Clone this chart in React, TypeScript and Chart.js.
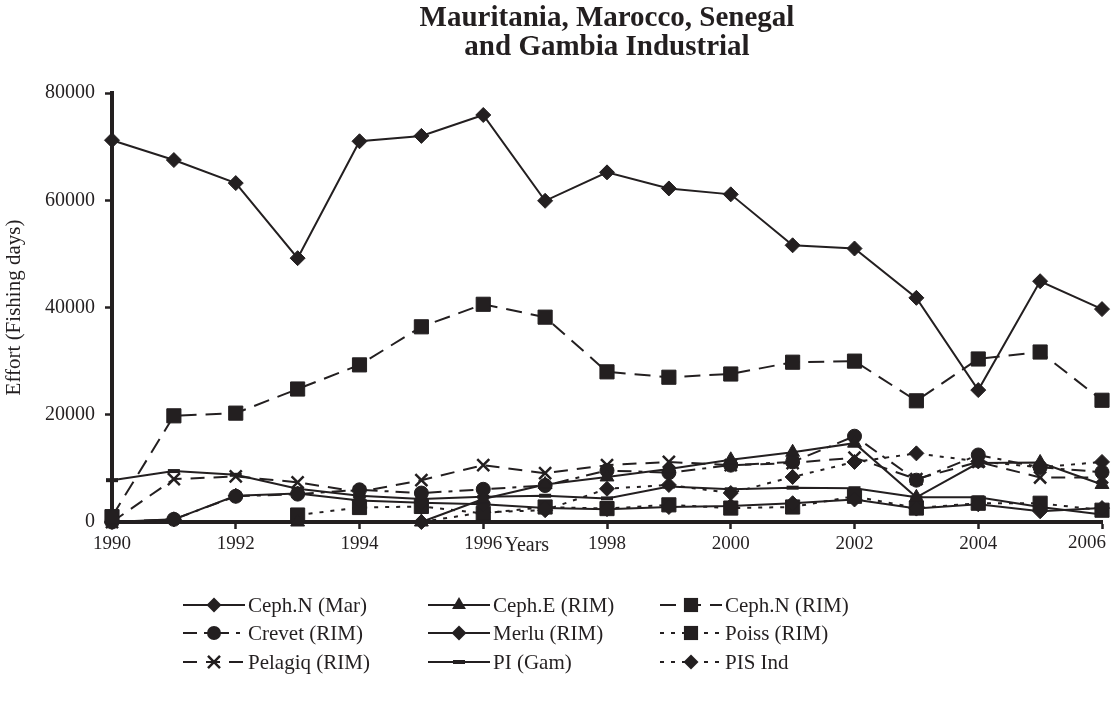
import React, { useEffect, useRef } from 'react';
import { Chart, registerables } from 'chart.js';

Chart.register(...registerables);

// ---------- data ----------
const years = [1990, 1991, 1992, 1993, 1994, 1995, 1996, 1997, 1998, 1999, 2000, 2001, 2002, 2003, 2004, 2005, 2006];

const cephNMar = [71200, 67500, 63200, 49200, 71000, 72000, 75900, 59900, 65200, 62200, 61100, 51600, 51000, 41800, 24600, 44900, 39700];
const cephERIM = [null, null, null, 0, null, 0, 4300, 7000, 8400, 9900, 11600, 13000, 14700, 4600, 11000, 11100, 7000];
const cephNRIM = [1000, 19800, 20300, 24800, 29300, 36400, 40600, 38200, 28000, 27000, 27600, 29800, 30000, 22600, 30400, 31700, 22700];
const crevetRIM = [0, 500, 4800, 5200, 6000, 5400, 6100, 6800, 9600, 9200, 10600, 11200, 16000, 7800, 12500, 10200, 9300];
const merluRIM = [0, 500, 4900, 5300, 4000, 3600, 3300, 2600, 2400, 2800, 3000, 3500, 4200, 2500, 3300, 2000, 2600];
const poissRIM = [null, null, null, 1300, 2700, 2900, 1600, 2800, 2500, 3200, 2600, 2800, 4800, 2600, 3500, 3500, 2200];
const pelagiqRIM = [0, 8000, 8500, 7400, 5600, 7800, 10600, 9100, 10600, 11200, 10600, 11000, 12000, 8000, 11200, 8300, 8300];
const piGam = [7800, 9500, 8800, 6200, 4900, 4300, 4700, 4900, 4400, 6600, 6100, 6400, 6300, 4600, 4600, 2800, 1400];
const pisInd = [null, null, null, null, null, 0, 1800, 2200, 6200, 6900, 5400, 8400, 11200, 12800, 11300, 10200, 11200];

const seriesNames = ['Ceph.N (Mar)', 'Ceph.E (RIM)', 'Ceph.N (RIM)', 'Crevet (RIM)', 'Merlu (RIM)', 'Poiss (RIM)', 'Pelagiq (RIM)', 'PI (Gam)', 'PIS Ind'];
const seriesValues = [cephNMar, cephERIM, cephNRIM, crevetRIM, merluRIM, poissRIM, pelagiqRIM, piGam, pisInd];

const yTickValues = [0, 20000, 40000, 60000, 80000];
const titleLines = ['Mauritania, Marocco, Senegal', 'and Gambia Industrial'];
const xTitle = 'Years';
const yTitle = 'Effort (Fishing days)';

// ---------- styles ----------
const INK = '#231f20';
const FONT = '"Liberation Serif", "Times New Roman", serif';

const styles = [
  { dash: [], point: 'rectRot', r: 7.5 },
  { dash: [], point: 'triangle', r: 8 },
  { dash: [16, 9], point: 'rect', r: 10 },
  { dash: [14, 7, 4, 7], point: 'circle', r: 7 },
  { dash: [], point: 'rectRot', r: 7.5 },
  { dash: [4, 7], point: 'rect', r: 10 },
  { dash: [14, 9], point: 'crossRot', r: 8.5 },
  { dash: [], point: 'line', r: 6 },
  { dash: [4, 7], point: 'rectRot', r: 7.5 },
];

function drawMarker(ctx: CanvasRenderingContext2D, style: string, x: number, y: number, r: number) {
  ctx.save();
  ctx.setLineDash([]);
  ctx.fillStyle = INK;
  ctx.strokeStyle = INK;
  ctx.beginPath();
  if (style === 'rectRot') {
    ctx.moveTo(x - r, y); ctx.lineTo(x, y - r); ctx.lineTo(x + r, y); ctx.lineTo(x, y + r); ctx.closePath(); ctx.fill();
  } else if (style === 'rect') {
    const s = r * Math.SQRT1_2;
    ctx.rect(x - s, y - s, 2 * s, 2 * s); ctx.fill();
  } else if (style === 'circle') {
    ctx.arc(x, y, r, 0, Math.PI * 2); ctx.fill();
  } else if (style === 'triangle') {
    ctx.moveTo(x, y - r); ctx.lineTo(x + r * 0.87, y + r * 0.5); ctx.lineTo(x - r * 0.87, y + r * 0.5); ctx.closePath(); ctx.fill();
  } else if (style === 'crossRot') {
    const d = r * Math.SQRT1_2;
    ctx.lineWidth = 2.5;
    ctx.moveTo(x - d, y - d); ctx.lineTo(x + d, y + d); ctx.moveTo(x + d, y - d); ctx.lineTo(x - d, y + d); ctx.stroke();
  } else if (style === 'line') {
    ctx.lineWidth = 4;
    ctx.moveTo(x - r, y); ctx.lineTo(x + r, y); ctx.stroke();
  }
  ctx.restore();
}

const extrasPlugin = {
  id: 'extras',
  afterDraw(chart: any) {
    const ctx: CanvasRenderingContext2D = chart.ctx;
    const area = chart.chartArea;
    ctx.save();
    // title
    ctx.fillStyle = INK;
    ctx.textAlign = 'center';
    ctx.textBaseline = 'middle';
    ctx.font = `bold 29px ${FONT}`;
    const cx = (area.left + area.right) / 2;
    ctx.fillText(titleLines[0], cx, 19);
    ctx.fillText(titleLines[1], cx, 48);
    // last x tick label, kept inside the canvas
    ctx.font = `19px ${FONT}`;
    ctx.textAlign = 'right';
    ctx.fillText(String(years[years.length - 1]), area.right + 4, area.bottom + 21);
    // x title
    ctx.textAlign = 'center';
    ctx.font = `20px ${FONT}`;
    ctx.fillText(xTitle, area.left + (area.right - area.left) * 0.419, area.bottom + 24);
    // legend
    const colX = [183, 428, 660];
    const rowY = [605, 633, 662];
    const L = 62;
    ctx.font = `21px ${FONT}`;
    ctx.textAlign = 'left';
    seriesNames.forEach((name, i) => {
      const col = i % 3, row = Math.floor(i / 3);
      const x0 = colX[col], y0 = rowY[row];
      const st = styles[i];
      ctx.save();
      ctx.strokeStyle = INK;
      ctx.lineWidth = 2.2;
      ctx.setLineDash(st.dash);
      ctx.beginPath();
      ctx.moveTo(x0, y0);
      ctx.lineTo(x0 + L, y0);
      ctx.stroke();
      ctx.restore();
      drawMarker(ctx, st.point, x0 + L / 2, y0, st.r);
      ctx.fillStyle = INK;
      ctx.fillText(name, x0 + L + 3, y0 + 1);
    });
    ctx.restore();
  },
};

export default function App() {
  const ref = useRef<HTMLCanvasElement>(null);
  useEffect(() => {
    document.body.style.margin = '0';
    if (!ref.current) return;
    const datasets = seriesNames.map((name, i) => ({
      label: name,
      data: seriesValues[i].map((v, j) => ({ x: years[j], y: v })),
      borderColor: INK,
      backgroundColor: INK,
      borderWidth: 2,
      borderDash: styles[i].dash,
      pointStyle: styles[i].point as any,
      pointRadius: styles[i].r,
      pointHoverRadius: styles[i].r,
      pointBackgroundColor: INK,
      pointBorderColor: INK,
      pointBorderWidth: styles[i].point === 'crossRot' ? 2.5 : styles[i].point === 'line' ? 4 : 1,
      fill: false,
      tension: 0,
      spanGaps: false,
      clip: false as any,
    }));
    const lastYear = years[years.length - 1];
    const chart = new Chart(ref.current, {
      type: 'line',
      data: { datasets },
      plugins: [extrasPlugin],
      options: {
        animation: false,
        responsive: false,
        maintainAspectRatio: false,
        layout: { padding: { top: 93, right: 10, left: 0, bottom: 0 } },
        plugins: { legend: { display: false }, title: { display: false }, tooltip: { enabled: false } },
        scales: {
          x: {
            type: 'linear',
            min: years[0],
            max: lastYear,
            ticks: {
              stepSize: 2,
              autoSkip: false,
              maxRotation: 0,
              color: INK,
              font: { family: FONT, size: 19 },
              padding: 4,
              callback: (v: any) => (v === lastYear ? '' : String(v)),
            },
            grid: { drawOnChartArea: false, drawTicks: true, tickLength: 7, tickWidth: 2.5, tickColor: INK },
            border: { display: true, color: INK, width: 4 },
            afterFit: (s: any) => { s.height = 707 - 522; },
          },
          y: {
            type: 'linear',
            min: yTickValues[0],
            max: yTickValues[yTickValues.length - 1],
            afterBuildTicks: (s: any) => { s.ticks = yTickValues.map((v) => ({ value: v })); },
            ticks: {
              color: INK,
              font: { family: FONT, size: 20 },
              padding: 10,
              callback: (v: any) => String(v),
            },
            grid: { drawOnChartArea: false, drawTicks: true, tickLength: 7, tickWidth: 2.5, tickColor: INK },
            border: { display: true, color: INK, width: 4 },
            title: { display: true, text: yTitle, color: INK, font: { family: FONT, size: 21 }, padding: { top: 2, bottom: 0 } },
            afterFit: (s: any) => { s.width = 112; },
          },
        },
      },
    });
    return () => chart.destroy();
  }, []);
  return (
    <div style={{ width: 1113, height: 707, background: '#fff' }}>
      <canvas ref={ref} width={1113} height={707} style={{ display: 'block' }} />
    </div>
  );
}
